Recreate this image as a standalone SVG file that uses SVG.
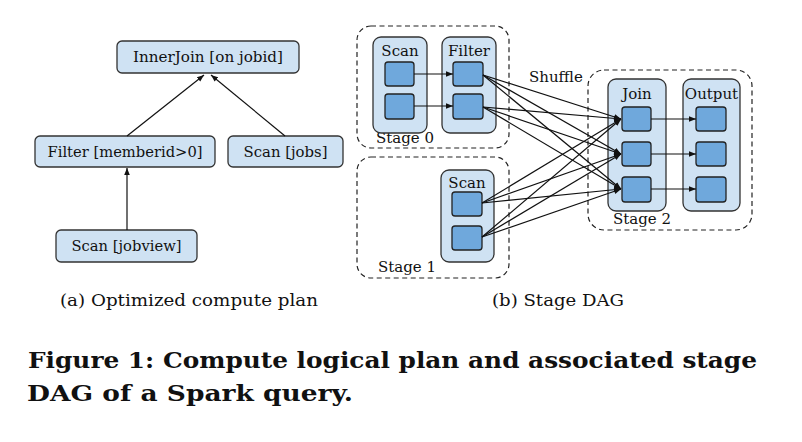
<svg xmlns="http://www.w3.org/2000/svg" width="802" height="442" viewBox="0 0 802 442">
<style>
.t{font-family:"DejaVu Serif","Liberation Serif",serif;fill:#111}
.lb{font-size:15px}
.op{fill:#cfe2f3;stroke:#333;stroke-width:1.3}
.col{fill:#cfe2f3;stroke:#333;stroke-width:1.3}
.task{fill:#6fa8dc;stroke:#222;stroke-width:1.3}
.stage{fill:none;stroke:#222;stroke-width:1.2;stroke-dasharray:5,3.5}
.e{stroke:#111;stroke-width:1.2;fill:none;marker-end:url(#ah)}
.cap{font-size:17px}
.fig{font-size:23px;font-weight:bold}
</style>
<defs>
<marker id="ah" viewBox="0 0 10 10" refX="10" refY="5" markerWidth="7" markerHeight="7" markerUnits="userSpaceOnUse" orient="auto">
<path d="M0,1 L10,5 L0,9 z" fill="#111"/>
</marker>
</defs>
<rect width="802" height="442" fill="#fff"/>

<!-- Left: compute plan -->
<g id="innerjoin"><rect class="op" x="117" y="41" width="182" height="32" rx="5"/><text class="t lb" x="208" y="62" text-anchor="middle" textLength="150" lengthAdjust="spacingAndGlyphs">InnerJoin [on jobid]</text></g>
<g id="filter"><rect class="op" x="35" y="136" width="180" height="31" rx="5"/><text class="t lb" x="125" y="157" text-anchor="middle" textLength="155" lengthAdjust="spacingAndGlyphs">Filter [memberid&gt;0]</text></g>
<g id="scanjobs"><rect class="op" x="228" y="136" width="115" height="31" rx="5"/><text class="t lb" x="285.5" y="157" text-anchor="middle" textLength="84" lengthAdjust="spacingAndGlyphs">Scan [jobs]</text></g>
<g id="scanjobview"><rect class="op" x="56" y="230" width="141" height="32" rx="5"/><text class="t lb" x="126.5" y="251" text-anchor="middle" textLength="110" lengthAdjust="spacingAndGlyphs">Scan [jobview]</text></g>

<!-- Right: stages -->
<g id="stage0">
<rect class="stage" x="357" y="26" width="152" height="122" rx="14"/>
<text class="t lb" x="376" y="143">Stage 0</text>
<g id="s0scan"><rect class="col" x="373" y="37" width="54" height="96" rx="8"/><text class="t lb" x="400" y="56" text-anchor="middle">Scan</text>
<rect class="task" x="385" y="62" width="29" height="24" rx="3"/><rect class="task" x="385" y="94" width="29" height="25" rx="3"/></g>
<g id="s0filter"><rect class="col" x="442" y="37" width="54" height="96" rx="8"/><text class="t lb" x="469" y="56" text-anchor="middle">Filter</text>
<rect class="task" x="453" y="62" width="30" height="24" rx="3"/><rect class="task" x="453" y="94" width="30" height="25" rx="3"/></g>
</g>
<g id="stage1">
<rect class="stage" x="357" y="157" width="152" height="121" rx="14"/>
<text class="t lb" x="378" y="272">Stage 1</text>
<g id="s1scan"><rect class="col" x="441" y="170" width="53" height="92" rx="8"/><text class="t lb" x="467" y="188" text-anchor="middle">Scan</text>
<rect class="task" x="452" y="192" width="30" height="24" rx="3"/><rect class="task" x="452" y="226" width="30" height="24" rx="3"/></g>
</g>
<g id="stage2">
<rect class="stage" x="588" y="70" width="164" height="160" rx="16"/>
<text class="t lb" x="613" y="224">Stage 2</text>
<g id="s2join"><rect class="col" x="608" y="79" width="58" height="132" rx="8"/><text class="t lb" x="637" y="99" text-anchor="middle">Join</text>
<rect class="task" x="622" y="107" width="29" height="24" rx="3"/><rect class="task" x="622" y="142" width="29" height="24" rx="3"/><rect class="task" x="622" y="177" width="29" height="25" rx="3"/></g>
<g id="s2output"><rect class="col" x="683" y="79" width="57" height="132" rx="8"/><text class="t lb" x="711.5" y="99" text-anchor="middle">Output</text>
<rect class="task" x="696" y="107" width="30" height="24" rx="3"/><rect class="task" x="696" y="142" width="30" height="24" rx="3"/><rect class="task" x="696" y="177" width="30" height="25" rx="3"/></g>
</g>
<text class="t lb" x="529" y="82">Shuffle</text>

<g id="connectors">
<path class="e" d="M127,136 L204,75"/>
<path class="e" d="M285,136 L211,75"/>
<path class="e" d="M127,230 L127,168"/>
<path class="e" d="M414,74 L453,74"/>
<path class="e" d="M414,106 L453,106"/>
<path class="e" d="M483,75 L621,119"/>
<path class="e" d="M483,75 L621,154"/>
<path class="e" d="M483,75 L621,189"/>
<path class="e" d="M483,107 L621,119"/>
<path class="e" d="M483,107 L621,154"/>
<path class="e" d="M483,107 L621,189"/>
<path class="e" d="M482,203 L621,119"/>
<path class="e" d="M482,203 L621,154"/>
<path class="e" d="M482,203 L621,189"/>
<path class="e" d="M482,237 L621,119"/>
<path class="e" d="M482,237 L621,154"/>
<path class="e" d="M482,237 L621,189"/>
<path class="e" d="M651,119 L696,119"/>
<path class="e" d="M651,154 L696,154"/>
<path class="e" d="M651,189 L696,189"/>
</g>

<text class="t cap" x="60" y="306" textLength="258" lengthAdjust="spacingAndGlyphs">(a) Optimized compute plan</text>
<text class="t cap" x="492" y="306" textLength="132" lengthAdjust="spacingAndGlyphs">(b) Stage DAG</text>
<text class="t fig" x="28" y="368" textLength="729" lengthAdjust="spacingAndGlyphs">Figure 1: Compute logical plan and associated stage</text>
<text class="t fig" x="27" y="401" textLength="326" lengthAdjust="spacingAndGlyphs">DAG of a Spark query.</text>
</svg>
